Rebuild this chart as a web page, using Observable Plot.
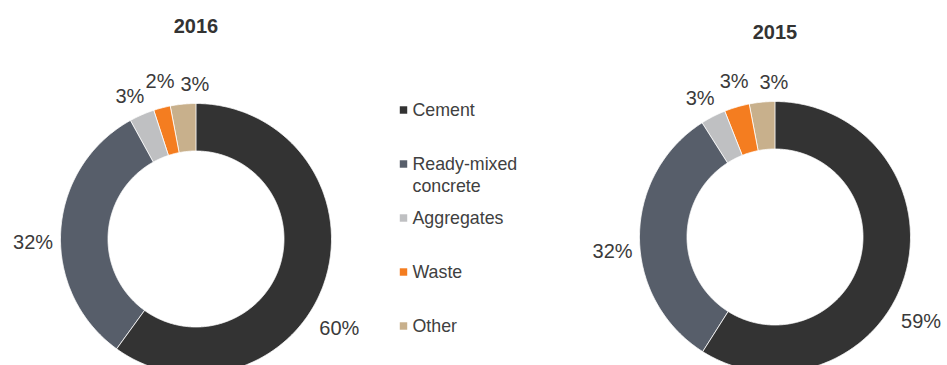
<!DOCTYPE html>
<html>
<head>
<meta charset="utf-8">
<script src="https://cdn.jsdelivr.net/npm/d3@7"></script>
<script src="https://cdn.jsdelivr.net/npm/@observablehq/plot@0.6"></script>
<style>
  html, body { margin: 0; padding: 0; background: #fff; overflow: hidden; }
  #chart svg { display: block; overflow: hidden; }
</style>
</head>
<body>
<div id="chart"></div>
<script>
// ---- data ----
const categories = ["Cement", "Ready-mixed concrete", "Aggregates", "Waste", "Other"];
const years = ["2016", "2015"];
const values2016 = [60, 32, 3, 2, 3];
const values2015 = [59, 32, 3, 3, 3];
const colors = ["#333333", "#575e6a", "#bfc0c2", "#f47d20", "#c8b08c"];

// ---- layout ----
const W = 947, H = 365;
const font = "'Liberation Sans', Arial, Helvetica, sans-serif";
const panels = [
  {year: years[0], values: values2016, cx: 195.5, cy: 238.5, titleY: 26},
  {year: years[1], values: values2015, cx: 774.5, cy: 236.5, titleY: 32}
];
const rOuter = 135.5, rInner = 88;
const deg = Math.PI / 180;
// label placement: angle nudge (degrees) from slice mid-angle and label radius, per slice order
const labelAngleNudge = [14, -5, -1.5, 1.5, 5];
const labelRadius = [169, 163, 157, 161, 154];

// build arc polygons and labels from data
const slices = [];
const labels = [];
for (const p of panels) {
  const total = d3.sum(p.values);
  let acc = 0;
  p.values.forEach((v, i) => {
    const a0 = acc / total * 2 * Math.PI;
    acc += v;
    const a1 = acc / total * 2 * Math.PI;
    const n = Math.max(2, Math.ceil((a1 - a0) / (0.5 * deg)));
    const pts = [];
    for (let k = 0; k <= n; k++) {
      const a = a0 + (a1 - a0) * k / n;
      pts.push({x: p.cx + rOuter * Math.sin(a), y: p.cy - rOuter * Math.cos(a)});
    }
    for (let k = n; k >= 0; k--) {
      const a = a0 + (a1 - a0) * k / n;
      pts.push({x: p.cx + rInner * Math.sin(a), y: p.cy - rInner * Math.cos(a)});
    }
    slices.push({pts, color: colors[i]});
    const am = (a0 + a1) / 2 + labelAngleNudge[i] * deg;
    const rl = labelRadius[i];
    labels.push({x: p.cx + rl * Math.sin(am), y: p.cy - rl * Math.cos(am), text: v + "%"});
  });
}

const legendX = 403, legendTop = 109.5, legendStep = 54;

const marks = [];
for (const s of slices) {
  marks.push(Plot.line(s.pts, {x: "x", y: "y", curve: "linear-closed", fill: s.color, stroke: "#ffffff", strokeWidth: 0.8}));
}
marks.push(
  Plot.text(labels, {x: "x", y: "y", text: "text", fontSize: 20, fill: "#3a3a3a", fontFamily: font}),
  Plot.text(panels, {x: "cx", y: "titleY", text: "year", fontSize: 20, fontWeight: "bold", fill: "#333333", fontFamily: font}),
  Plot.dot(categories, {x: () => legendX, y: (d, i) => legendTop + i * legendStep, symbol: "square", r: 4.2, fill: (d, i) => colors[i], stroke: null}),
  Plot.text(categories, {x: () => legendX + 9, y: (d, i) => legendTop + i * legendStep - 9.4, text: d => d, textAnchor: "start", lineAnchor: "top", lineWidth: 7, lineHeight: 1.22, fontSize: 17.8, fill: "#404040", fontFamily: font})
);

const chart = Plot.plot({
  width: W,
  height: H,
  margin: 0,
  x: {domain: [0, W], range: [0, W], axis: null},
  y: {domain: [0, H], range: [0, H], axis: null},
  style: {background: "#ffffff", fontFamily: font},
  marks
});
document.getElementById("chart").appendChild(chart);
</script>
</body>
</html>
